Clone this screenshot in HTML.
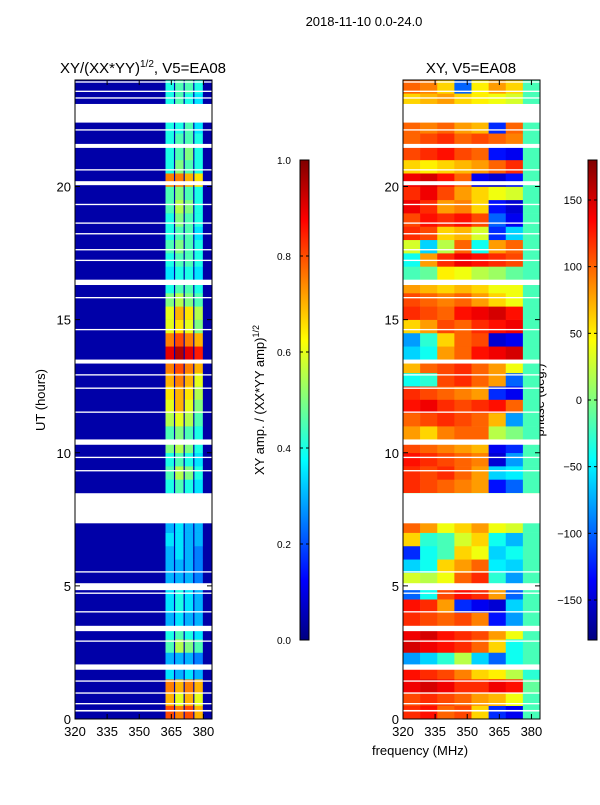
<!DOCTYPE html>
<html><head><meta charset="utf-8"><style>
body{margin:0;background:#fff;font-family:"Liberation Sans","DejaVu Sans",sans-serif;}
svg text{font-family:"Liberation Sans","DejaVu Sans",sans-serif;fill:#000}
</style></head><body>
<svg id="fig" width="600" height="800" viewBox="0 0 600 800" xmlns="http://www.w3.org/2000/svg">
<rect width="600" height="800" fill="#fff"/>
<text x="364" y="26" font-size="13" text-anchor="middle">2018-11-10 0.0-24.0</text>
<text x="143" y="73" font-size="15" text-anchor="middle">XY/(XX*YY)<tspan font-size="10" dy="-6">1/2</tspan><tspan dy="6">, V5=EA08</tspan></text>
<text x="471" y="73" font-size="15" text-anchor="middle">XY, V5=EA08</text>
<text x="45" y="400" font-size="13" text-anchor="middle" transform="rotate(-90 45 400)">UT (hours)</text>
<text x="420" y="755" font-size="13" text-anchor="middle">frequency (MHz)</text>
<text x="264" y="400" font-size="13" text-anchor="middle" transform="rotate(-90 264 400)">XY amp. / (XX*YY amp)<tspan font-size="9" dy="-5">1/2</tspan></text>
<text x="544" y="400" font-size="13" text-anchor="middle" transform="rotate(-90 544 400)">phase (deg.)</text>
<g id="g1"></g>
<g id="g2"></g>
<g id="cb"></g>
<g id="ax"></g>
</svg>
<script>
const hours = [0,0.5,1,1.5,2,2.5,3,3.5,4,4.5,5,5.5,6,6.5,7,7.5,8,8.5,9,9.5,10,10.5,11,11.5,12,12.5,13,13.5,14,14.5,15,15.5,16,16.5,17,17.5,18,18.5,19,19.5,20,20.5,21,21.5,22,22.5,23,23.5];
const ampFreqEdges = [362,366.5,371,375.5,380];
const ampValues = [
[.8,.75,.8,.7],[.7,.6,.7,.6],[.75,.7,.75,.7],[.35,.3,.35,.3],[.3,.3,.3,.25],[.45,.55,.5,.45],[.4,.45,.4,.35],[.3,.35,.3,.3],
[.35,.4,.35,.3],[.35,.4,.35,.3],[.3,.3,.3,.25],[.3,.3,.3,.25],[.3,.35,.3,.25],[.35,.35,.3,.3],[.3,.35,.3,.3],[.3,.3,.3,.3],
[.3,.3,.3,.3],[.4,.45,.4,.35],[.45,.55,.5,.4],[.4,.45,.4,.35],[.5,.55,.5,.4],[.45,.5,.45,.4],[.55,.6,.55,.45],[.6,.7,.6,.5],
[.65,.7,.65,.55],[.7,.75,.7,.6],[.75,.8,.75,.7],[.9,.95,.9,.85],[.75,.8,.75,.7],[.6,.65,.6,.5],[.6,.7,.65,.55],[.5,.55,.5,.45],
[.4,.45,.45,.4],[.35,.4,.4,.35],[.4,.45,.45,.4],[.45,.5,.45,.4],[.4,.45,.45,.35],[.4,.5,.45,.4],[.45,.55,.5,.4],[.45,.5,.45,.4],
[.75,.75,.7,.65],[.4,.5,.45,.4],[.4,.45,.5,.4],[.4,.45,.45,.4],[.4,.4,.45,.35],[.4,.4,.4,.4],[.4,.45,.4,.35],[.4,.45,.45,.4]];
const ampBackground = 0.04;
const phaseFreqEdges = [320,328,336,344,352,360,368,376,384];
const phaseValues = [
[120,130,100,110,60,-120,-140,-20],[110,120,110,100,80,70,40,-20],[140,150,140,120,120,140,130,-10],[130,120,110,90,60,50,20,-30],
[-80,-60,-30,20,-60,-100,-40,-20],[150,140,130,120,100,60,-40,-20],[140,150,130,120,110,80,40,-20],[120,110,100,110,90,-130,-80,-20],
[130,120,80,-120,-140,-150,-60,-20],[-100,-40,110,130,120,80,-100,-20],[30,20,40,100,120,-30,-80,-20],[-60,-40,60,80,100,-50,-60,-20],
[-120,-40,-20,60,40,-60,-40,-20],[60,-30,-20,30,60,-40,-70,-20],[100,80,40,60,80,40,30,-20],[0,0,0,0,0,0,0,0],
[0,0,0,0,0,0,0,0],[120,110,100,90,80,-130,-100,-20],[120,110,120,100,80,-60,-50,-20],[130,120,110,100,90,-150,-80,-20],
[110,100,90,80,70,-140,-120,-20],[80,60,90,100,100,20,0,-20],[100,110,120,110,100,70,-80,-20],[130,140,120,110,120,130,100,-20],
[120,110,100,90,80,-120,-140,-20],[-40,-30,110,120,100,80,-100,-20],[70,100,110,120,100,80,40,-20],[-60,-40,80,100,130,140,150,-20],
[-80,-30,60,100,110,-150,-140,-20],[60,80,110,100,120,130,140,-20],[120,110,100,130,140,150,130,-20],[110,100,90,100,80,60,40,-20],
[80,70,60,70,60,40,40,-20],[-20,-10,50,40,20,10,-10,-20],[-40,80,120,140,130,120,110,-20],[30,-60,20,100,-40,80,100,-20],
[120,110,60,70,30,-120,-60,-20],[110,130,120,130,110,-100,-140,-20],[140,120,80,90,60,-130,-150,-20],[120,140,110,80,60,40,30,-20],
[140,150,130,100,-140,-150,-130,-20],[60,50,60,70,80,100,120,-20],[110,120,130,110,100,-130,-140,-20],[100,110,120,100,110,100,90,-20],
[100,90,100,80,70,-120,100,-20],[0,0,0,0,0,0,0,0],[60,70,80,60,50,40,30,-20],[100,90,60,-100,50,80,60,-20]];
const flagStarts = [0.28,0.55,0.95,1.4,1.85,2.9,3.3,4.0,4.7,4.84,5.5,7.35,9.3,9.8,10.3,11.5,12.4,12.9,13.35,14.6,15.8,16.3,17.2,17.6,18.2,18.6,19.3,20.05,20.6,21.45,22.1,22.4,23.3,23.55,23.9];
const flagEnds   = [0.34,0.6,1.0,1.45,2.05,2.95,3.5,4.05,4.75,5.1,5.55,8.48,9.35,9.85,10.5,11.55,12.45,12.95,13.5,14.65,15.85,16.5,17.25,17.65,18.25,18.65,19.35,20.2,20.65,21.6,22.15,23.1,23.35,23.6,23.95];
const yTicks = [0,5,10,15,20];
const xTicks = [320,335,350,365,380];
const ampCbTicks = [0.0,0.2,0.4,0.6,0.8,1.0];
const phaseCbTicks = [-150,-100,-50,0,50,100,150];

const NS="http://www.w3.org/2000/svg";
function jet(v){v=Math.max(0,Math.min(1,v));
 const r=Math.max(0,Math.min(1,1.5-Math.abs(4*v-3))),g=Math.max(0,Math.min(1,1.5-Math.abs(4*v-2))),b=Math.max(0,Math.min(1,1.5-Math.abs(4*v-1)));
 return `rgb(${Math.round(r*255)},${Math.round(g*255)},${Math.round(b*255)})`;}
function mk(tag,attrs,parent){const e=document.createElementNS(NS,tag);for(const k in attrs)e.setAttribute(k,attrs[k]);parent.appendChild(e);return e;}
const P1={x0:75,x1:212},P2={x0:403,x1:540},Y0=719,Y1=80;
const fMin=320,fMax=384;
const yS=h=>Y0-(h/24)*(Y0-Y1);
const xS=(P,f)=>P.x0+(f-fMin)/(fMax-fMin)*(P.x1-P.x0);
const g1=document.getElementById('g1'),g2=document.getElementById('g2'),cb=document.getElementById('cb'),ax=document.getElementById('ax');
// amplitude background
const bg=mk('rect',{x:P1.x0,y:Y1,width:P1.x1-P1.x0,height:Y0-Y1,fill:jet(ampBackground)},g1);


hours.forEach((h,i)=>{
 ampValues[i].forEach((v,j)=>{
  const xa=xS(P1,ampFreqEdges[j])+0.6,xb=xS(P1,ampFreqEdges[j+1])-0.6;
  const r=mk('rect',{x:xa,y:yS(h+0.5),width:xb-xa,height:yS(h)-yS(h+0.5)+0.3,fill:jet(v)},g1);
  
  
 });
 phaseValues[i].forEach((v,j)=>{
  const xa=xS(P2,phaseFreqEdges[j]),xb=xS(P2,phaseFreqEdges[j+1]);
  const r=mk('rect',{x:xa,y:yS(h+0.5),width:xb-xa+0.3,height:yS(h)-yS(h+0.5)+0.3,fill:jet((v+180)/360)},g2);
  
  
 });
});
[[P1,g1],[P2,g2]].forEach(([P,g])=>{
 flagStarts.forEach((s,i)=>{
  const r=mk('rect',{x:P.x0,y:yS(flagEnds[i]),width:P.x1-P.x0,height:yS(s)-yS(flagEnds[i]),fill:'#fff'},g);
  
  
 });
});
// colorbars
const defs=mk('defs',{},cb);
const lg=mk('linearGradient',{id:'jetg',x1:0,y1:1,x2:0,y2:0},defs);
for(let k=0;k<=8;k++)mk('stop',{offset:k/8,'stop-color':jet(k/8)},lg);
[[300,'amp-colorbar'],[588,'phase-colorbar']].forEach(([x,n])=>{
 const r=mk('rect',{x:x,y:160,width:9,height:480,fill:'url(#jetg)',stroke:'#000','stroke-width':1},cb);
 
 
});
ampCbTicks.forEach(t=>{const y=640-t*480;
 mk('line',{x1:300,x2:303,y1:y,y2:y,stroke:'#000'},cb);mk('line',{x1:306,x2:309,y1:y,y2:y,stroke:'#000'},cb);
 const tx=mk('text',{x:277,y:y+4,'font-size':10},cb);tx.textContent=t.toFixed(1);
 
 
});
phaseCbTicks.forEach(t=>{const y=400-t*480/360;
 mk('line',{x1:588,x2:591,y1:y,y2:y,stroke:'#000'},cb);mk('line',{x1:594,x2:597,y1:y,y2:y,stroke:'#000'},cb);
 const tx=mk('text',{x:582,y:y+4,'font-size':11,'text-anchor':'end'},cb);tx.textContent=t<0?'\u2212'+(-t):String(t);
 
 
});
// axes
[[P1,'amp'],[P2,'phase']].forEach(([P,n])=>{
 const fr=mk('rect',{x:P.x0,y:Y1,width:P.x1-P.x0,height:Y0-Y1,fill:'none',stroke:'#000','stroke-width':1},ax);
 
 
 yTicks.forEach(t=>{const y=yS(t);
  mk('line',{x1:P.x0,x2:P.x0+5,y1:y,y2:y,stroke:'#000'},ax);mk('line',{x1:P.x1-5,x2:P.x1,y1:y,y2:y,stroke:'#000'},ax);
  const tx=mk('text',{x:P.x0-4,y:y+5,'font-size':13,'text-anchor':'end'},ax);tx.textContent=t;
  
  
 });
 xTicks.forEach(t=>{const x=xS(P,t);
  mk('line',{x1:x,x2:x,y1:Y0,y2:Y0-5,stroke:'#000'},ax);mk('line',{x1:x,x2:x,y1:Y1,y2:Y1+5,stroke:'#000'},ax);
  const tx=mk('text',{x:x,y:Y0+17,'font-size':13,'text-anchor':'middle'},ax);tx.textContent=t;
  
  
 });
});
</script>
</body></html>
